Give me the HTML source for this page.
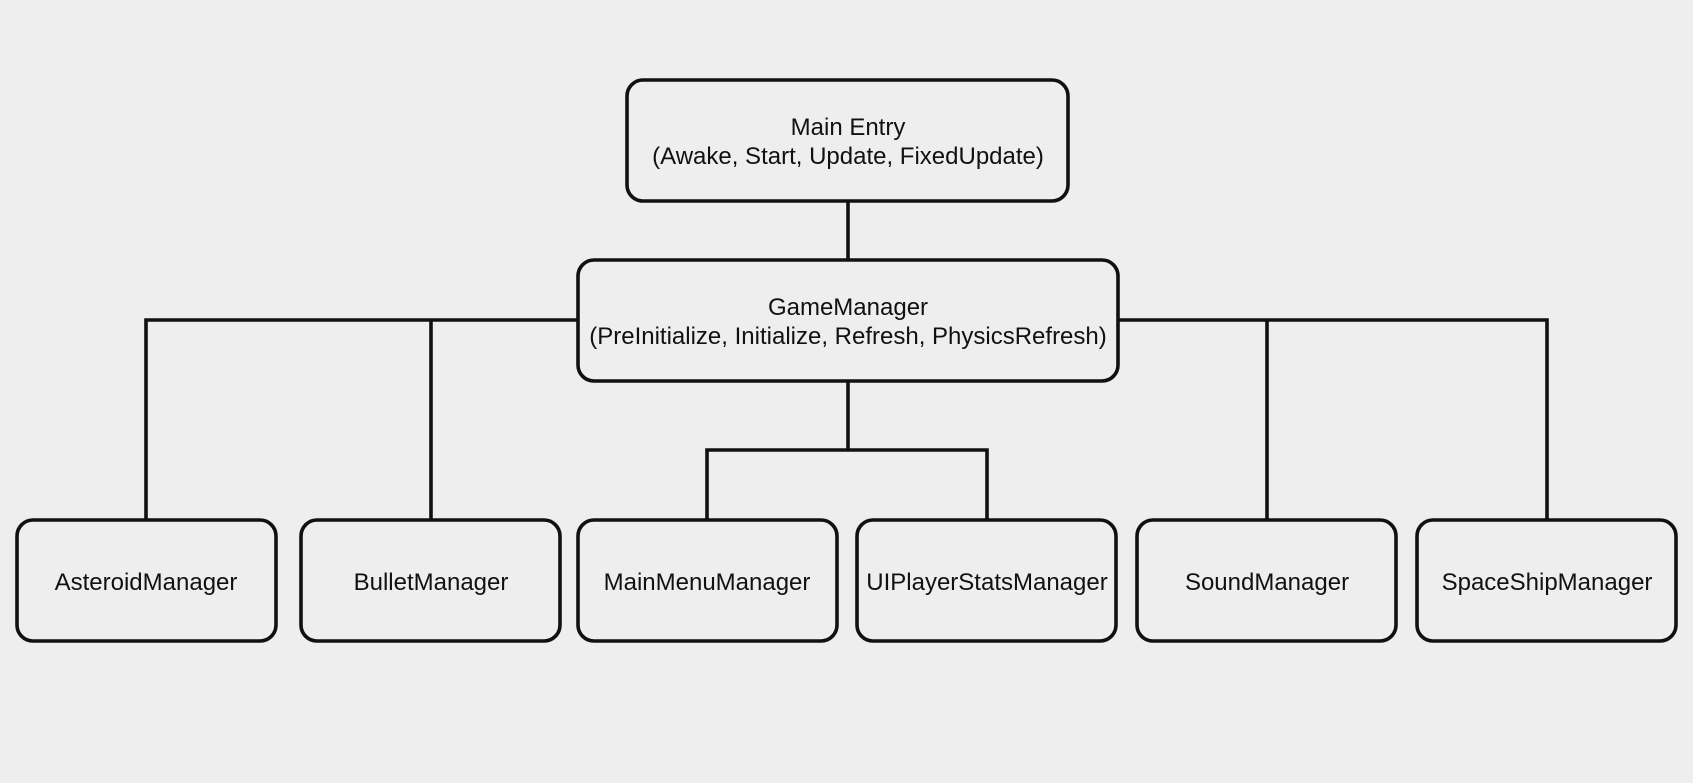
<!DOCTYPE html>
<html><head><meta charset="utf-8"><style>
html,body{margin:0;padding:0;background:#eeeeee;}
svg{display:block}
text{font-family:"Liberation Sans",Arial,sans-serif;font-size:24px;fill:#111;}
</style></head><body>
<svg width="1693" height="783" viewBox="0 0 1693 783" xmlns="http://www.w3.org/2000/svg">
<rect width="1693" height="783" fill="#eeeeee"/>
<g stroke="#111" stroke-width="3.6" fill="none">
<line x1="848" y1="201" x2="848" y2="260"/>
<polyline points="578,320 146,320 146,520"/>
<line x1="431" y1="320" x2="431" y2="520"/>
<polyline points="1118,320 1547,320 1547,520"/>
<line x1="1267" y1="320" x2="1267" y2="520"/>
<line x1="848" y1="381" x2="848" y2="450"/>
<polyline points="707,520 707,450 987,450 987,520"/>
<rect x="627" y="80" width="441" height="121" rx="16"/>
<rect x="578" y="260" width="540" height="121" rx="16"/>
<rect x="17" y="520" width="259" height="121" rx="16"/>
<rect x="301" y="520" width="259" height="121" rx="16"/>
<rect x="578" y="520" width="259" height="121" rx="16"/>
<rect x="857" y="520" width="259" height="121" rx="16"/>
<rect x="1137" y="520" width="259" height="121" rx="16"/>
<rect x="1417" y="520" width="259" height="121" rx="16"/>
</g>
<g text-anchor="middle">
<text x="848" y="135">Main Entry</text>
<text x="848" y="164">(Awake, Start, Update, FixedUpdate)</text>
<text x="848" y="315">GameManager</text>
<text x="848" y="344">(PreInitialize, Initialize, Refresh, PhysicsRefresh)</text>
<text x="146" y="590">AsteroidManager</text>
<text x="431" y="590">BulletManager</text>
<text x="707" y="590">MainMenuManager</text>
<text x="987" y="590">UIPlayerStatsManager</text>
<text x="1267" y="590">SoundManager</text>
<text x="1547" y="590">SpaceShipManager</text>
</g>
</svg>
</body></html>
